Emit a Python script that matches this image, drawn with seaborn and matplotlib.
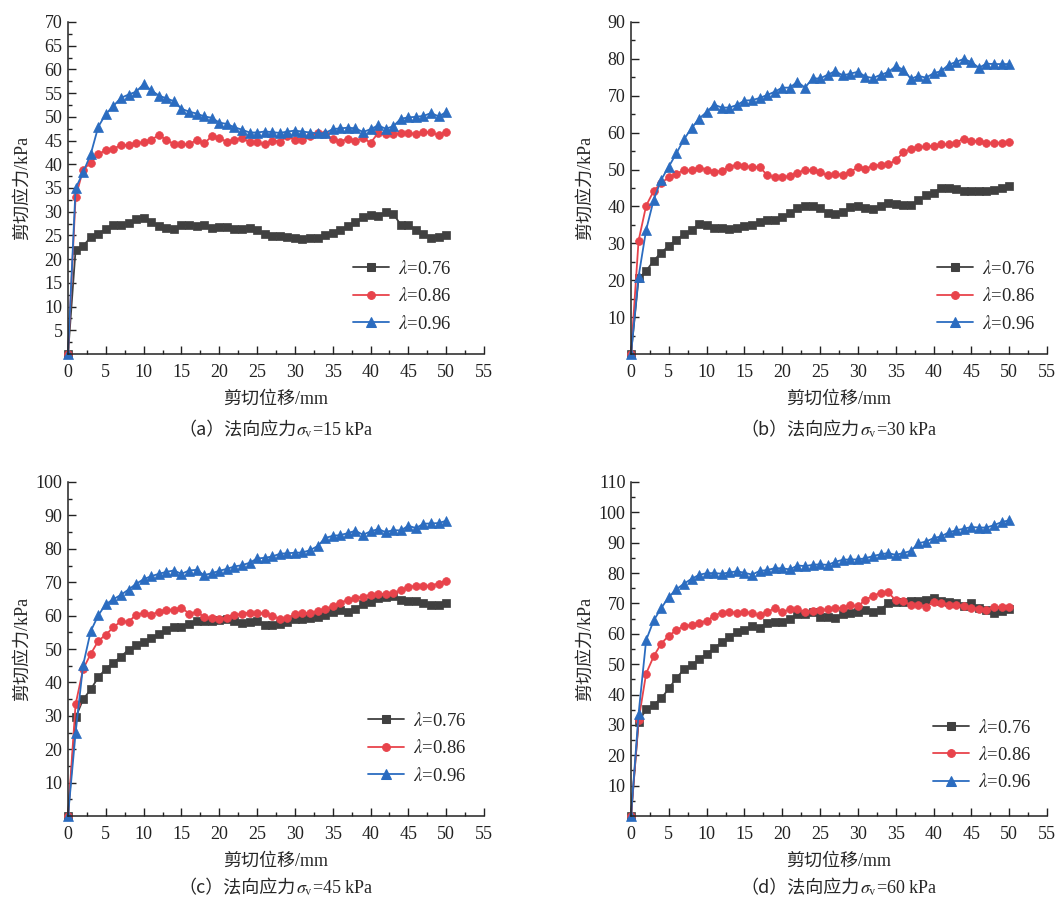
import matplotlib
matplotlib.use("Agg")
import matplotlib.pyplot as plt
import seaborn as sns
import pandas as pd
from matplotlib.ticker import MultipleLocator

sns.set_style("ticks")
plt.rcParams["font.family"] = ["Liberation Serif", "Noto Sans CJK SC", "DejaVu Sans"]
plt.rcParams["mathtext.fontset"] = "stix"

# ---------------- data ----------------
x_mm = [0, 1, 2, 3, 4, 5, 6, 7, 8, 9, 10, 11, 12, 13, 14, 15, 16, 17, 18, 19, 20,
        21, 22, 23, 24, 25, 26, 27, 28, 29, 30, 31, 32, 33, 34, 35, 36, 37, 38, 39, 40,
        41, 42, 43, 44, 45, 46, 47, 48, 49, 50]

series_labels = ["$\\lambda$=0.76", "$\\lambda$=0.86", "$\\lambda$=0.96"]

# (a) sigma_v = 15 kPa
a_076 = [0, 21.9, 22.8, 24.6, 25.4, 26.3, 27.1, 27.2, 27.7, 28.4, 28.7, 27.9, 27.0, 26.6, 26.3, 27.2, 27.2,
         27.0, 27.3, 26.5, 26.7, 26.8, 26.3, 26.3, 26.6, 26.1, 25.3, 24.9, 24.9, 24.6, 24.4, 24.2, 24.4,
         24.4, 25.1, 25.6, 26.2, 27.0, 27.8, 28.9, 29.4, 29.1, 29.9, 29.6, 27.2, 27.2, 26.2, 25.4, 24.4,
         24.7, 25.0]
a_086 = [0, 33.0, 38.9, 40.3, 42.1, 43.0, 43.3, 44.0, 44.1, 44.4, 44.7, 45.2, 46.1, 45.2, 44.2, 44.2, 44.2,
         45.1, 44.4, 45.9, 45.6, 44.7, 45.2, 45.5, 44.7, 44.7, 44.2, 45.0, 44.8, 45.9, 45.2, 45.2, 45.9,
         46.6, 46.3, 45.4, 44.8, 45.4, 44.9, 45.6, 44.5, 46.6, 46.3, 46.3, 46.6, 46.7, 46.3, 46.8, 46.8,
         46.1, 46.9]
a_096 = [0, 34.9, 38.3, 42.1, 47.9, 50.6, 52.3, 54.0, 54.7, 55.3, 56.9, 55.6, 54.5, 53.9, 53.3, 51.7, 51.1,
         50.7, 50.1, 49.8, 48.8, 48.5, 47.8, 47.3, 46.7, 46.7, 46.9, 46.8, 46.6, 46.9, 47.1, 46.9, 46.7,
         46.5, 46.6, 47.4, 47.6, 47.7, 47.6, 46.8, 47.4, 48.2, 47.5, 48.0, 49.6, 49.9, 50.0, 50.2, 50.8,
         50.1, 51.0]

# (b) sigma_v = 30 kPa
b_076 = [0, 20.5, 22.5, 25.3, 27.5, 29.3, 31.0, 32.4, 33.5, 35.3, 34.9, 34.2, 34.2, 33.9, 34.2, 34.7, 35.0,
         35.9, 36.2, 36.2, 37.1, 38.3, 39.5, 40.2, 40.2, 39.7, 38.2, 37.9, 38.4, 39.9, 40.2, 39.6, 39.3,
         40.1, 41.0, 40.7, 40.5, 40.4, 41.7, 43.0, 43.7, 45.1, 45.1, 44.7, 44.1, 44.1, 44.3, 44.3, 44.5,
         45.1, 45.5]
b_086 = [0, 30.7, 40.2, 44.2, 46.4, 47.9, 48.9, 49.8, 49.9, 50.5, 50.0, 49.3, 49.7, 50.7, 51.3, 50.9, 50.7,
         50.7, 48.5, 47.9, 47.9, 48.3, 49.1, 49.9, 49.8, 49.3, 48.4, 48.7, 48.6, 49.4, 50.6, 50.2, 51.0,
         51.3, 51.4, 52.5, 54.7, 55.6, 56.0, 56.3, 56.4, 56.8, 56.8, 57.3, 58.4, 57.7, 57.8, 57.3, 57.3,
         57.3, 57.6]
b_096 = [0, 21.0, 33.6, 41.8, 47.3, 50.8, 54.4, 58.2, 61.2, 63.8, 65.6, 67.6, 66.8, 66.8, 67.5, 68.7, 68.8,
         69.4, 70.2, 71.1, 72.2, 72.2, 73.8, 72.2, 74.7, 74.7, 75.7, 76.7, 75.5, 76.0, 76.5, 75.2, 74.8,
         75.7, 76.4, 78.0, 77.1, 74.6, 75.4, 74.9, 76.1, 76.7, 78.4, 79.2, 80.0, 79.1, 77.6, 78.7, 78.6,
         78.6, 78.6]

# (c) sigma_v = 45 kPa
c_076 = [0, 29.5, 34.9, 37.9, 41.5, 44.1, 45.9, 47.7, 49.8, 51.1, 52.2, 53.4, 54.4, 55.6, 56.6, 56.6, 57.6,
         58.5, 58.5, 58.5, 58.7, 58.9, 58.5, 57.7, 58.2, 58.5, 57.3, 57.3, 57.6, 58.2, 59.1, 59.1, 59.4,
         59.6, 60.2, 61.2, 61.7, 61.2, 62.0, 63.4, 64.2, 65.2, 65.6, 66.0, 64.7, 64.5, 64.5, 63.8, 63.2,
         63.2, 63.9]
c_086 = [0, 33.4, 44.0, 48.5, 52.4, 54.3, 56.5, 58.3, 58.2, 60.2, 60.8, 60.3, 61.1, 61.8, 61.8, 62.4, 60.6,
         61.0, 59.7, 59.2, 59.0, 59.3, 60.1, 60.6, 60.9, 60.8, 60.7, 60.0, 58.9, 59.4, 60.4, 60.8, 60.7,
         61.4, 62.0, 62.8, 63.9, 64.6, 65.2, 65.7, 66.2, 66.4, 66.5, 66.8, 67.6, 68.5, 69.0, 69.0, 69.0,
         69.6, 70.5]
c_096 = [0, 24.8, 45.2, 55.3, 60.1, 63.4, 64.9, 66.2, 67.8, 69.5, 70.9, 71.8, 72.5, 73.1, 73.5, 72.5, 73.5,
         73.7, 72.1, 72.7, 73.4, 74.0, 74.7, 75.1, 75.8, 77.1, 77.3, 77.7, 78.5, 78.7, 78.8, 78.9, 79.6,
         80.8, 83.2, 83.9, 84.1, 84.7, 85.4, 84.2, 85.2, 85.9, 85.0, 85.6, 85.5, 86.9, 86.2, 87.5, 87.6,
         87.7, 88.4]

# (d) sigma_v = 60 kPa
d_076 = [0, 31.0, 35.1, 36.7, 38.7, 42.0, 45.4, 48.3, 49.8, 51.6, 53.4, 55.3, 57.2, 58.9, 60.7, 61.2, 62.7,
         62.0, 63.7, 63.9, 63.9, 64.9, 66.4, 66.4, 67.1, 65.7, 65.7, 65.3, 66.4, 67.0, 67.3, 67.8, 67.3,
         68.0, 70.1, 70.5, 70.5, 70.7, 70.8, 71.2, 71.8, 70.8, 70.5, 70.0, 69.1, 70.0, 68.6, 67.8, 67.0,
         67.5, 68.2]
d_086 = [0, 31.6, 46.9, 52.6, 56.8, 59.4, 61.2, 62.6, 62.9, 63.7, 64.2, 66.0, 67.0, 67.1, 67.0, 67.3, 66.7,
         66.1, 67.1, 68.5, 67.1, 68.1, 68.1, 67.2, 67.5, 67.8, 68.1, 68.4, 68.6, 69.5, 69.0, 71.3, 72.4,
         73.6, 73.7, 71.0, 70.7, 69.5, 69.5, 68.9, 70.5, 70.1, 69.6, 69.4, 69.3, 68.6, 68.2, 68.0, 68.8,
         68.9, 68.8]
d_096 = [0, 33.6, 57.9, 64.4, 68.5, 72.1, 74.7, 76.5, 78.1, 79.4, 80.0, 80.0, 79.8, 80.2, 80.6, 80.1, 79.5,
         80.7, 81.0, 81.6, 81.6, 81.2, 82.5, 82.3, 82.7, 82.9, 82.7, 83.7, 84.4, 84.5, 84.5, 84.9, 85.6,
         86.2, 86.6, 86.0, 86.6, 87.3, 89.8, 90.4, 91.5, 92.1, 93.4, 94.1, 94.6, 95.2, 95.0, 95.0, 95.8,
         96.8, 97.4]

caption_cn = ["（a）法向应力", "（b）法向应力", "（c）法向应力", "（d）法向应力"]
caption_math = ["$\\sigma_{\\rm v}$=15 kPa", "$\\sigma_{\\rm v}$=30 kPa",
                "$\\sigma_{\\rm v}$=45 kPa", "$\\sigma_{\\rm v}$=60 kPa"]
x_title = "剪切位移/mm"
y_title = "剪切应力/kPa"
y_max = [70, 90, 100, 110]
y_step = [5, 10, 10, 10]

# ---------------- style ----------------
palette = {series_labels[0]: "#404040", series_labels[1]: "#E8434B", series_labels[2]: "#2B6CC0"}
marker_map = {series_labels[0]: "s", series_labels[1]: "o", series_labels[2]: "^"}
marker_size = {series_labels[0]: 5.2, series_labels[1]: 5.6, series_labels[2]: 6.6}

W, H = 1056, 901
fig = plt.figure(figsize=(W / 100, H / 100), dpi=100)
renderer = fig.canvas.get_renderer()

def px_rect(left, top, right, bottom):
    return [left / W, 1 - bottom / H, (right - left) / W, (bottom - top) / H]

rects = [px_rect(68, 22, 484, 354), px_rect(631, 22, 1047, 354),
         px_rect(68, 482, 484, 816), px_rect(631, 482, 1047, 816)]
legend_anchor = [(0.95, 0.03), (1.0, 0.03), (0.985, 0.06), (0.99, 0.04)]
caption_y = [430, 430, 888, 888]

panel_data = [(a_076, a_086, a_096), (b_076, b_086, b_096),
              (c_076, c_086, c_096), (d_076, d_086, d_096)]

for i, (rect, data) in enumerate(zip(rects, panel_data)):
    ax = fig.add_axes(rect)
    df = pd.DataFrame({
        "x": x_mm * 3,
        "y": list(data[0]) + list(data[1]) + list(data[2]),
        "series": [series_labels[0]] * len(x_mm) + [series_labels[1]] * len(x_mm)
                  + [series_labels[2]] * len(x_mm),
    })
    sns.lineplot(data=df, x="x", y="y", hue="series", style="series",
                 hue_order=series_labels, style_order=series_labels,
                 palette=palette, markers=marker_map, dashes=False,
                 linewidth=1.3, markersize=6, ax=ax, clip_on=False, sort=False)
    for j, line in enumerate(ax.lines[:3]):
        c = line.get_color()
        line.set_markeredgecolor(c)
        line.set_markerfacecolor(c)
        line.set_markeredgewidth(0.5)
        line.set_markersize(marker_size[series_labels[j]])

    ax.set_xlim(0, 55)
    ax.set_ylim(0, y_max[i])
    ax.set_xticks(list(range(0, 56, 5)))
    ax.xaxis.set_minor_locator(MultipleLocator(2.5))
    ax.set_yticks(list(range(y_step[i], y_max[i] + 1, y_step[i])))
    ax.yaxis.set_minor_locator(MultipleLocator(y_step[i] / 2))
    ax.tick_params(which="major", direction="in", length=5.5, width=1.0, labelsize=13,
                   colors="#222222", pad=4)
    ax.tick_params(which="minor", direction="in", length=3, width=1.0, colors="#222222")
    ax.tick_params(axis="x", which="major", pad=7)
    for s in ["top", "right"]:
        ax.spines[s].set_visible(False)
    for s in ["left", "bottom"]:
        ax.spines[s].set_linewidth(1.1)
        ax.spines[s].set_color("#222222")

    ax.set_xlabel(x_title, fontsize=13, labelpad=7)
    ax.set_ylabel(y_title, fontsize=13)
    ax.yaxis.set_label_coords(-0.09, 0.5)

    handles, labels = ax.get_legend_handles_labels()
    leg = ax.legend(handles, labels, loc="lower right", bbox_to_anchor=legend_anchor[i],
                    frameon=False, fontsize=13.5, handlelength=1.9, handletextpad=0.5,
                    labelspacing=0.5, borderaxespad=0.2)
    for h, lab in zip(leg.legend_handles, labels):
        h.set_markersize(marker_size[lab])
        h.set_markeredgecolor(palette[lab])
        h.set_markerfacecolor(palette[lab])

    # caption: Chinese part + math part placed side by side, centred under the axes
    cx_px = (rect[0] + rect[2] / 2) * W
    y_fig = 1 - caption_y[i] / H
    t1 = fig.text(0, y_fig, caption_cn[i], ha="left", va="center", fontsize=13,
                  family=["Noto Sans CJK SC", "DejaVu Sans"])
    t2 = fig.text(0, y_fig, caption_math[i], ha="left", va="center", fontsize=13)
    w1 = t1.get_window_extent(renderer).width
    w2 = t2.get_window_extent(renderer).width
    start = cx_px - (w1 + w2) / 2
    t1.set_x(start / W)
    t2.set_x((start + w1) / W)

fig.savefig("out.png", dpi=100)
